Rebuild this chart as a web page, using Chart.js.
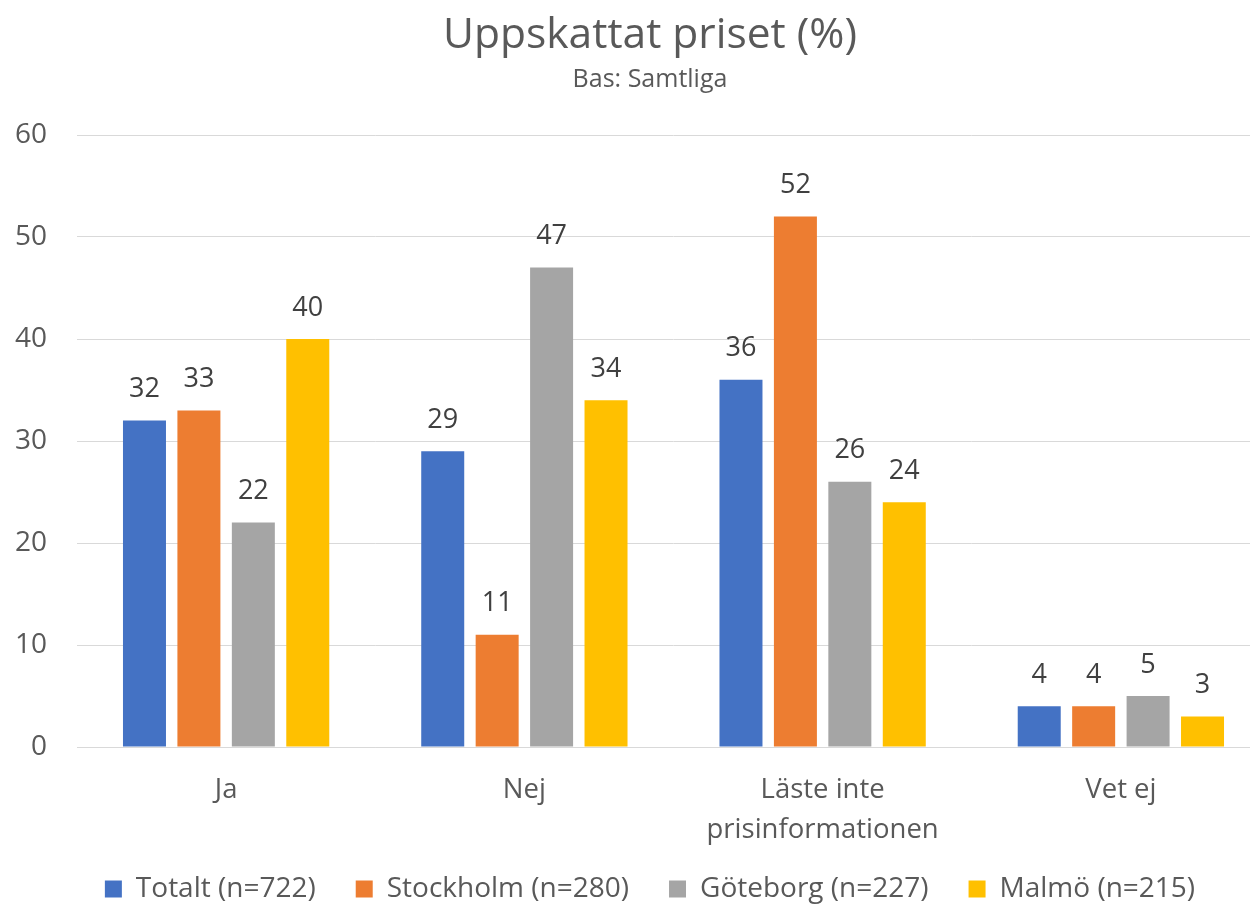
<!DOCTYPE html>
<html><head><meta charset="utf-8">
<script src="https://cdn.jsdelivr.net/npm/chart.js@4.4.1/dist/chart.umd.min.js"></script>
<style>html,body{margin:0;padding:0;overflow:hidden;background:#fff}#wrap{width:1300px;height:914px;position:relative}</style>
</head><body><div id="wrap"><canvas id="c"></canvas></div>
<script>
const categories = ['Ja', 'Nej', ['Läste inte', 'prisinformationen'], 'Vet ej'];
const seriesNames = ['Totalt (n=722)', 'Stockholm (n=280)', 'Göteborg (n=227)', 'Malmö (n=215)'];
const totalt = [32, 29, 36, 4];
const stockholm = [33, 11, 52, 4];
const goteborg = [22, 47, 26, 5];
const malmo = [40, 34, 24, 3];
const seriesColors = ['#4472C4', '#ED7D31', '#A5A5A5', '#FFC000'];
const titleText = 'Uppskattat priset (%)';
const subtitleText = 'Bas: Samtliga';

const FONT = "'Open Sans', sans-serif";
const TXT = '#595959';

const labelPlugin = {
  id: 'valueLabels',
  afterDatasetsDraw(chart) {
    const ctx = chart.ctx;
    ctx.save();
    ctx.font = "27px " + FONT;
    ctx.fillStyle = '#404040';
    ctx.textAlign = 'center';
    ctx.textBaseline = 'middle';
    chart.data.datasets.forEach((ds, i) => {
      const meta = chart.getDatasetMeta(i);
      meta.data.forEach((bar, j) => {
        ctx.fillText(String(ds.data[j]), bar.x, bar.y - 31);
      });
    });
    ctx.restore();
  }
};

const noLabelClip = function () { return undefined; };

const seriesData = [totalt, stockholm, goteborg, malmo];
new Chart(document.getElementById('c'), {
  type: 'bar',
  data: {
    labels: categories,
    datasets: seriesNames.map((n, i) => ({
      label: n,
      data: seriesData[i],
      backgroundColor: seriesColors[i],
      barPercentage: 0.79,
      categoryPercentage: 0.73
    }))
  },
  options: {
    responsive: true,
    maintainAspectRatio: false,
    animation: false,
    layout: { padding: { left: 30, right: 30, top: 10, bottom: 1 } },
    plugins: {
      title: { display: true, text: titleText, color: TXT, font: { family: FONT, size: 42.5, weight: 'normal', lineHeight: 1.2 }, padding: { top: 0, bottom: 4 } },
      subtitle: { display: true, text: subtitleText, color: TXT, font: { family: FONT, size: 25, weight: 'normal', lineHeight: 1.2 }, padding: { top: 0, bottom: 40 } },
      legend: {
        position: 'bottom',
        labels: { boxWidth: 17, boxHeight: 17, padding: 40, color: TXT, font: { family: FONT, size: 28 } }
      },
      tooltip: { enabled: false }
    },
    scales: {
      x: {
        grid: { display: false },
        border: { color: '#d9d9d9', width: 1 },
        ticks: { color: TXT, font: { family: FONT, size: 27.5, lineHeight: 1.45 }, padding: 15, maxRotation: 0 },
        afterFit(scale) {
          scale.height = 88;
          scale._computeLabelArea = noLabelClip;
        }
      },
      y: {
        min: 0, max: 60,
        ticks: { stepSize: 10, color: TXT, font: { family: FONT, size: 28 }, padding: 30 },
        grid: { color: '#d9d9d9', drawTicks: false },
        border: { display: false },
        afterFit(scale) {
          scale.width = 47;
          scale._computeLabelArea = noLabelClip;
        }
      }
    }
  },
  plugins: [labelPlugin]
});
</script></body></html>
